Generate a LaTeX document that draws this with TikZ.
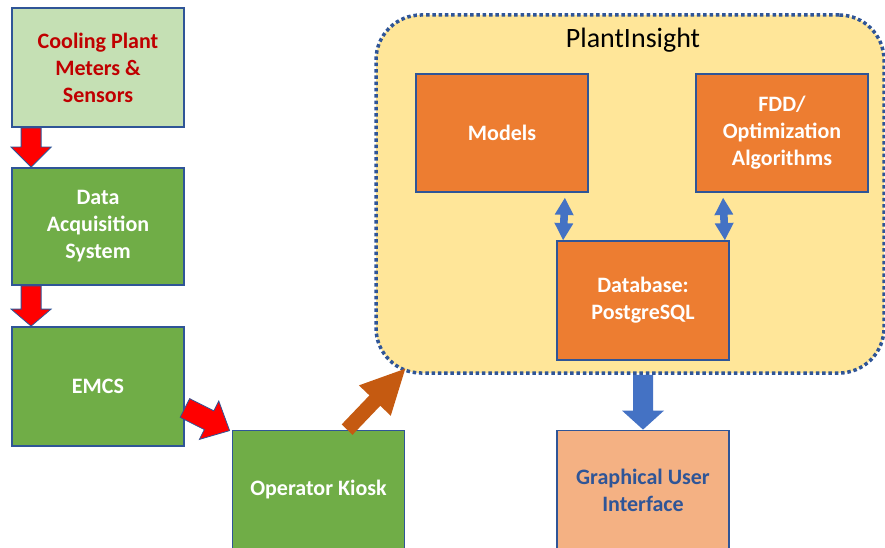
\documentclass[tikz,border=0pt]{standalone}
\usepackage{fontspec}
\setmainfont{Carlito}
\usetikzlibrary{calc}
\definecolor{bordc}{HTML}{2F5597}
\definecolor{lgreen}{HTML}{C5E0B4}
\definecolor{dgreen}{HTML}{70AD47}
\definecolor{orng}{HTML}{ED7D31}
\definecolor{lorng}{HTML}{F4B183}
\definecolor{piyel}{HTML}{FFE699}
\definecolor{brwn}{HTML}{C55A11}
\definecolor{blu}{HTML}{4472C4}
\definecolor{dred}{HTML}{C00000}
\newcommand\blkarrow[6]{%
  \coordinate (ba-h) at ($(#3)!#6!(#2)$);
  \path[#1] ($(#2)!#4!90:(#3)$) -- ($(ba-h)!#4!90:(#3)$) -- ($(ba-h)!#5!90:(#3)$) -- (#3)
    -- ($(ba-h)!#5!-90:(#3)$) -- ($(ba-h)!#4!-90:(#3)$) -- ($(#2)!#4!-90:(#3)$) -- cycle;}
\newcommand\dblarrow[6]{%
  \coordinate (da-a) at ($(#3)!#6!(#2)$);
  \coordinate (da-b) at ($(#2)!#6!(#3)$);
  \path[#1] (#3) -- ($(da-a)!#5!90:(#3)$) -- ($(da-a)!#4!90:(#3)$) -- ($(da-b)!#4!90:(#3)$)
    -- ($(da-b)!#5!90:(#3)$) -- (#2) -- ($(da-b)!#5!-90:(#3)$) -- ($(da-b)!#4!-90:(#3)$)
    -- ($(da-a)!#4!-90:(#3)$) -- ($(da-a)!#5!-90:(#3)$) -- cycle;}
\tikzset{
  box/.style={draw=bordc, line width=1.8pt, minimum width=172pt, inner sep=2pt,
    align=center, font=\fontsize{22}{27}\selectfont\bfseries, text=white},
  greenbox/.style={box, fill=dgreen},
  orangebox/.style={box, fill=orng},
  redarrow/.style={fill=red, draw=bordc, line width=0.8pt},
  brownarrow/.style={fill=brwn},
  bluearrow/.style={fill=blu},
}
\begin{document}
\begin{tikzpicture}[x=1pt,y=-1pt]
\useasboundingbox (0,0) rectangle (885,548);
% container
\node[draw=bordc, fill=piyel, line width=3.5pt, dash pattern=on 3.5pt off 2.8pt,
      rounded corners=45pt, minimum width=508pt, minimum height=358pt, inner sep=0pt]
      (pi) at (630,194) {};
\node[font=\fontsize{28}{34}\selectfont] (title) at (633,40) {PlantInsight};
% left column
\node[box, fill=lgreen, text=dred, minimum height=119pt] (cp) at (98,67.5)
  {Cooling Plant\\Meters \&\\Sensors};
\node[greenbox, minimum height=117pt] (daq) at (98,226.5)
  {Data\\Acquisition\\System};
\node[greenbox, minimum height=119pt] (emcs) at (98,386.5) {EMCS};
\node[greenbox, minimum height=119pt] (ok) at (318.5,490) {Operator Kiosk};
% inner boxes
\node[orangebox, minimum height=118pt] (models) at (502,133) {Models};
\node[orangebox, minimum height=118pt] (fdd) at (782,133) {FDD/\\Optimization\\Algorithms};
\node[orangebox, minimum height=119pt] (db) at (643,300.5) {Database:\\PostgreSQL};
\node[box, fill=lorng, text=bordc, minimum height=119pt] (gui) at (643,490)
  {Graphical User\\Interface};
% connector end points
\coordinate (r1s) at ($(cp.south west)+(20,0)$);
\coordinate (r1e) at ($(daq.north west)+(20,0)$);
\coordinate (r2s) at ($(daq.south west)+(20,0)$);
\coordinate (r2e) at ($(emcs.north west)+(20,0)$);
\coordinate (r3s) at ($(emcs.east)+(0,21.5)$);
\coordinate (r3e) at ($(ok.north west)+(-2,1)$);
\coordinate (bs) at ($(ok.north west)+(115.5,0)$);
\coordinate (be) at ($(pi.south west)+(31,-6)$);
\coordinate (gs) at (db.south|-pi.south);
\coordinate (ge) at (gui.north);
\coordinate (d1s) at ($(db.north west)+(7,0)$);
\coordinate (d1e) at ($(models.south east)+(-24,5)$);
\coordinate (d2s) at ($(db.north east)+(-5,0)$);
\coordinate (d2e) at ($(fdd.south west)+(28,5)$);
% arrows
\blkarrow{redarrow}{r1s}{r1e}{10pt}{20pt}{20pt}
\blkarrow{redarrow}{r2s}{r2e}{10pt}{20pt}{17pt}
\blkarrow{redarrow}{r3s}{r3e}{10.5pt}{21.5pt}{23pt}
\blkarrow{brownarrow}{bs}{be}{7.5pt}{22pt}{44pt}
\blkarrow{bluearrow}{gs}{ge}{10pt}{21pt}{19pt}
\dblarrow{bluearrow}{d1s}{d1e}{3.8pt}{9.5pt}{17pt}
\dblarrow{bluearrow}{d2s}{d2e}{3.8pt}{9.5pt}{17pt}
\end{tikzpicture}
\end{document}
